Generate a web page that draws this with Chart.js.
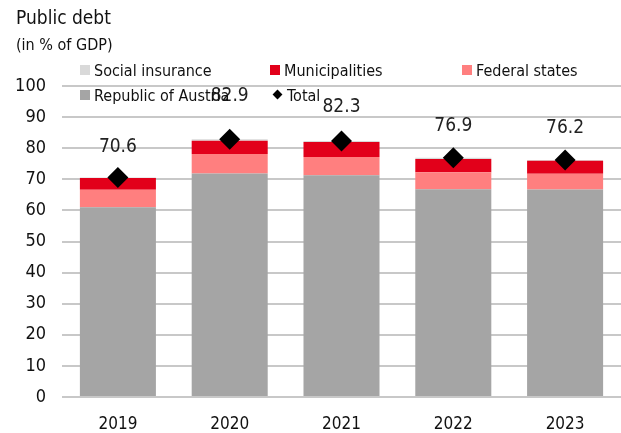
<!DOCTYPE html>
<html lang="en">
<head>
<meta charset="UTF-8">
<title>Public debt</title>
<script src="https://cdn.jsdelivr.net/npm/chart.js"></script>
<style>
    body { margin: 0; background: #fff; font-family: "DejaVu Sans Condensed", "Liberation Sans Narrow", sans-serif; color: #111; }
    .wrap { position: relative; width: 621px; height: 433px; overflow: hidden; }
    canvas { position: absolute; left: 0; top: 0; }
    .title { position: absolute; left: 16px; top: 6px; font-size: 19px; }
    .sub { position: absolute; left: 16px; top: 35px; font-size: 16px; }
    .leg { position: absolute; font-size: 16px; line-height: 18px; white-space: nowrap; }
    .sw { display: inline-block; width: 10px; height: 10px; margin-right: 4px; vertical-align: 1px; }
    .dia { display: inline-block; width: 7px; height: 7px; background: #000; transform: rotate(45deg); margin: 0 6px 0 2px; vertical-align: 3px; }
</style>
</head>
<body>
<div class="wrap">
    <canvas id="debtChart" width="633" height="433"></canvas>
    <div class="title">Public debt</div>
    <div class="sub">(in % of GDP)</div>
    <div class="leg" style="left:80px; top:62px;"><span class="sw" style="background:#d9d9d9"></span>Social insurance</div>
    <div class="leg" style="left:270px; top:62px;"><span class="sw" style="background:#e2001a"></span>Municipalities</div>
    <div class="leg" style="left:462px; top:62px;"><span class="sw" style="background:#ff7f7f"></span>Federal states</div>
    <div class="leg" style="left:80px; top:87px;"><span class="sw" style="background:#a5a5a5"></span>Republic of Austria</div>
    <div class="leg" style="left:272px; top:87px;"><span class="dia"></span>Total</div>
</div>

<script>
    const years = ['2019', '2020', '2021', '2022', '2023'];
    const republic = [61.0, 71.9, 71.3, 66.8, 66.7];
    const federalStates = [5.6, 6.2, 5.9, 5.5, 5.1];
    const municipalities = [3.8, 4.3, 4.8, 4.2, 4.2];
    const socialInsurance = [0.2, 0.5, 0.3, 0.4, 0.2];
    const total = [70.6, 82.9, 82.3, 76.9, 76.2];

    const FONT = '"DejaVu Sans Condensed", "Liberation Sans Narrow", sans-serif';

    // Werte über den Rauten
    const totalLabels = {
        id: 'totalLabels',
        afterDatasetsDraw(chart, args, opts) {
            const ctx = chart.ctx;
            const meta = chart.getDatasetMeta(4);
            ctx.save();
            ctx.font = '19px ' + FONT;
            ctx.fillStyle = '#222';
            ctx.textAlign = 'center';
            ctx.textBaseline = 'middle';
            meta.data.forEach((pt, i) => {
                const off = opts.offsets[i] || 32;
                ctx.fillText(total[i].toFixed(1), pt.x, pt.y - off);
            });
            ctx.restore();
        }
    };

    new Chart(document.getElementById('debtChart'), {
        type: 'bar',
        data: {
            labels: years,
            datasets: [
                { label: 'Republic of Austria', data: republic, backgroundColor: '#a5a5a5', stack: 'debt', order: 2 },
                { label: 'Federal states', data: federalStates, backgroundColor: '#ff7f7f', stack: 'debt', order: 2 },
                { label: 'Municipalities', data: municipalities, backgroundColor: '#e2001a', stack: 'debt', order: 2 },
                { label: 'Social insurance', data: socialInsurance, backgroundColor: '#d9d9d9', stack: 'debt', order: 2 },
                {
                    type: 'line', label: 'Total', data: total, stack: 'total', order: 1,
                    showLine: false, pointStyle: 'rectRot', pointRadius: 10.5, pointHoverRadius: 10.5,
                    backgroundColor: '#000', borderColor: '#000', borderWidth: 0
                }
            ]
        },
        options: {
            responsive: false,
            animation: false,
            layout: { padding: { top: 86, right: 12, left: 0, bottom: 0 } },
            datasets: { bar: { barPercentage: 0.68, categoryPercentage: 1 } },
            scales: {
                x: {
                    stacked: true,
                    afterFit(scale) { scale.height = 36; },
                    grid: { display: false },
                    border: { display: false },
                    ticks: { color: '#111', font: { size: 17, family: FONT }, padding: 9 }
                },
                y: {
                    stacked: true,
                    min: 0, max: 100,
                    afterFit(scale) { scale.width = 62; },
                    grid: { color: '#c8c8c8', lineWidth: 2, drawTicks: false },
                    border: { display: false },
                    ticks: { stepSize: 10, color: '#111', padding: 16, font: { size: 18, family: FONT } }
                }
            },
            plugins: {
                legend: { display: false },
                tooltip: { enabled: false },
                totalLabels: { offsets: [30, 43, 34, 32, 32] }
            }
        },
        plugins: [totalLabels]
    });
</script>
</body>
</html>
